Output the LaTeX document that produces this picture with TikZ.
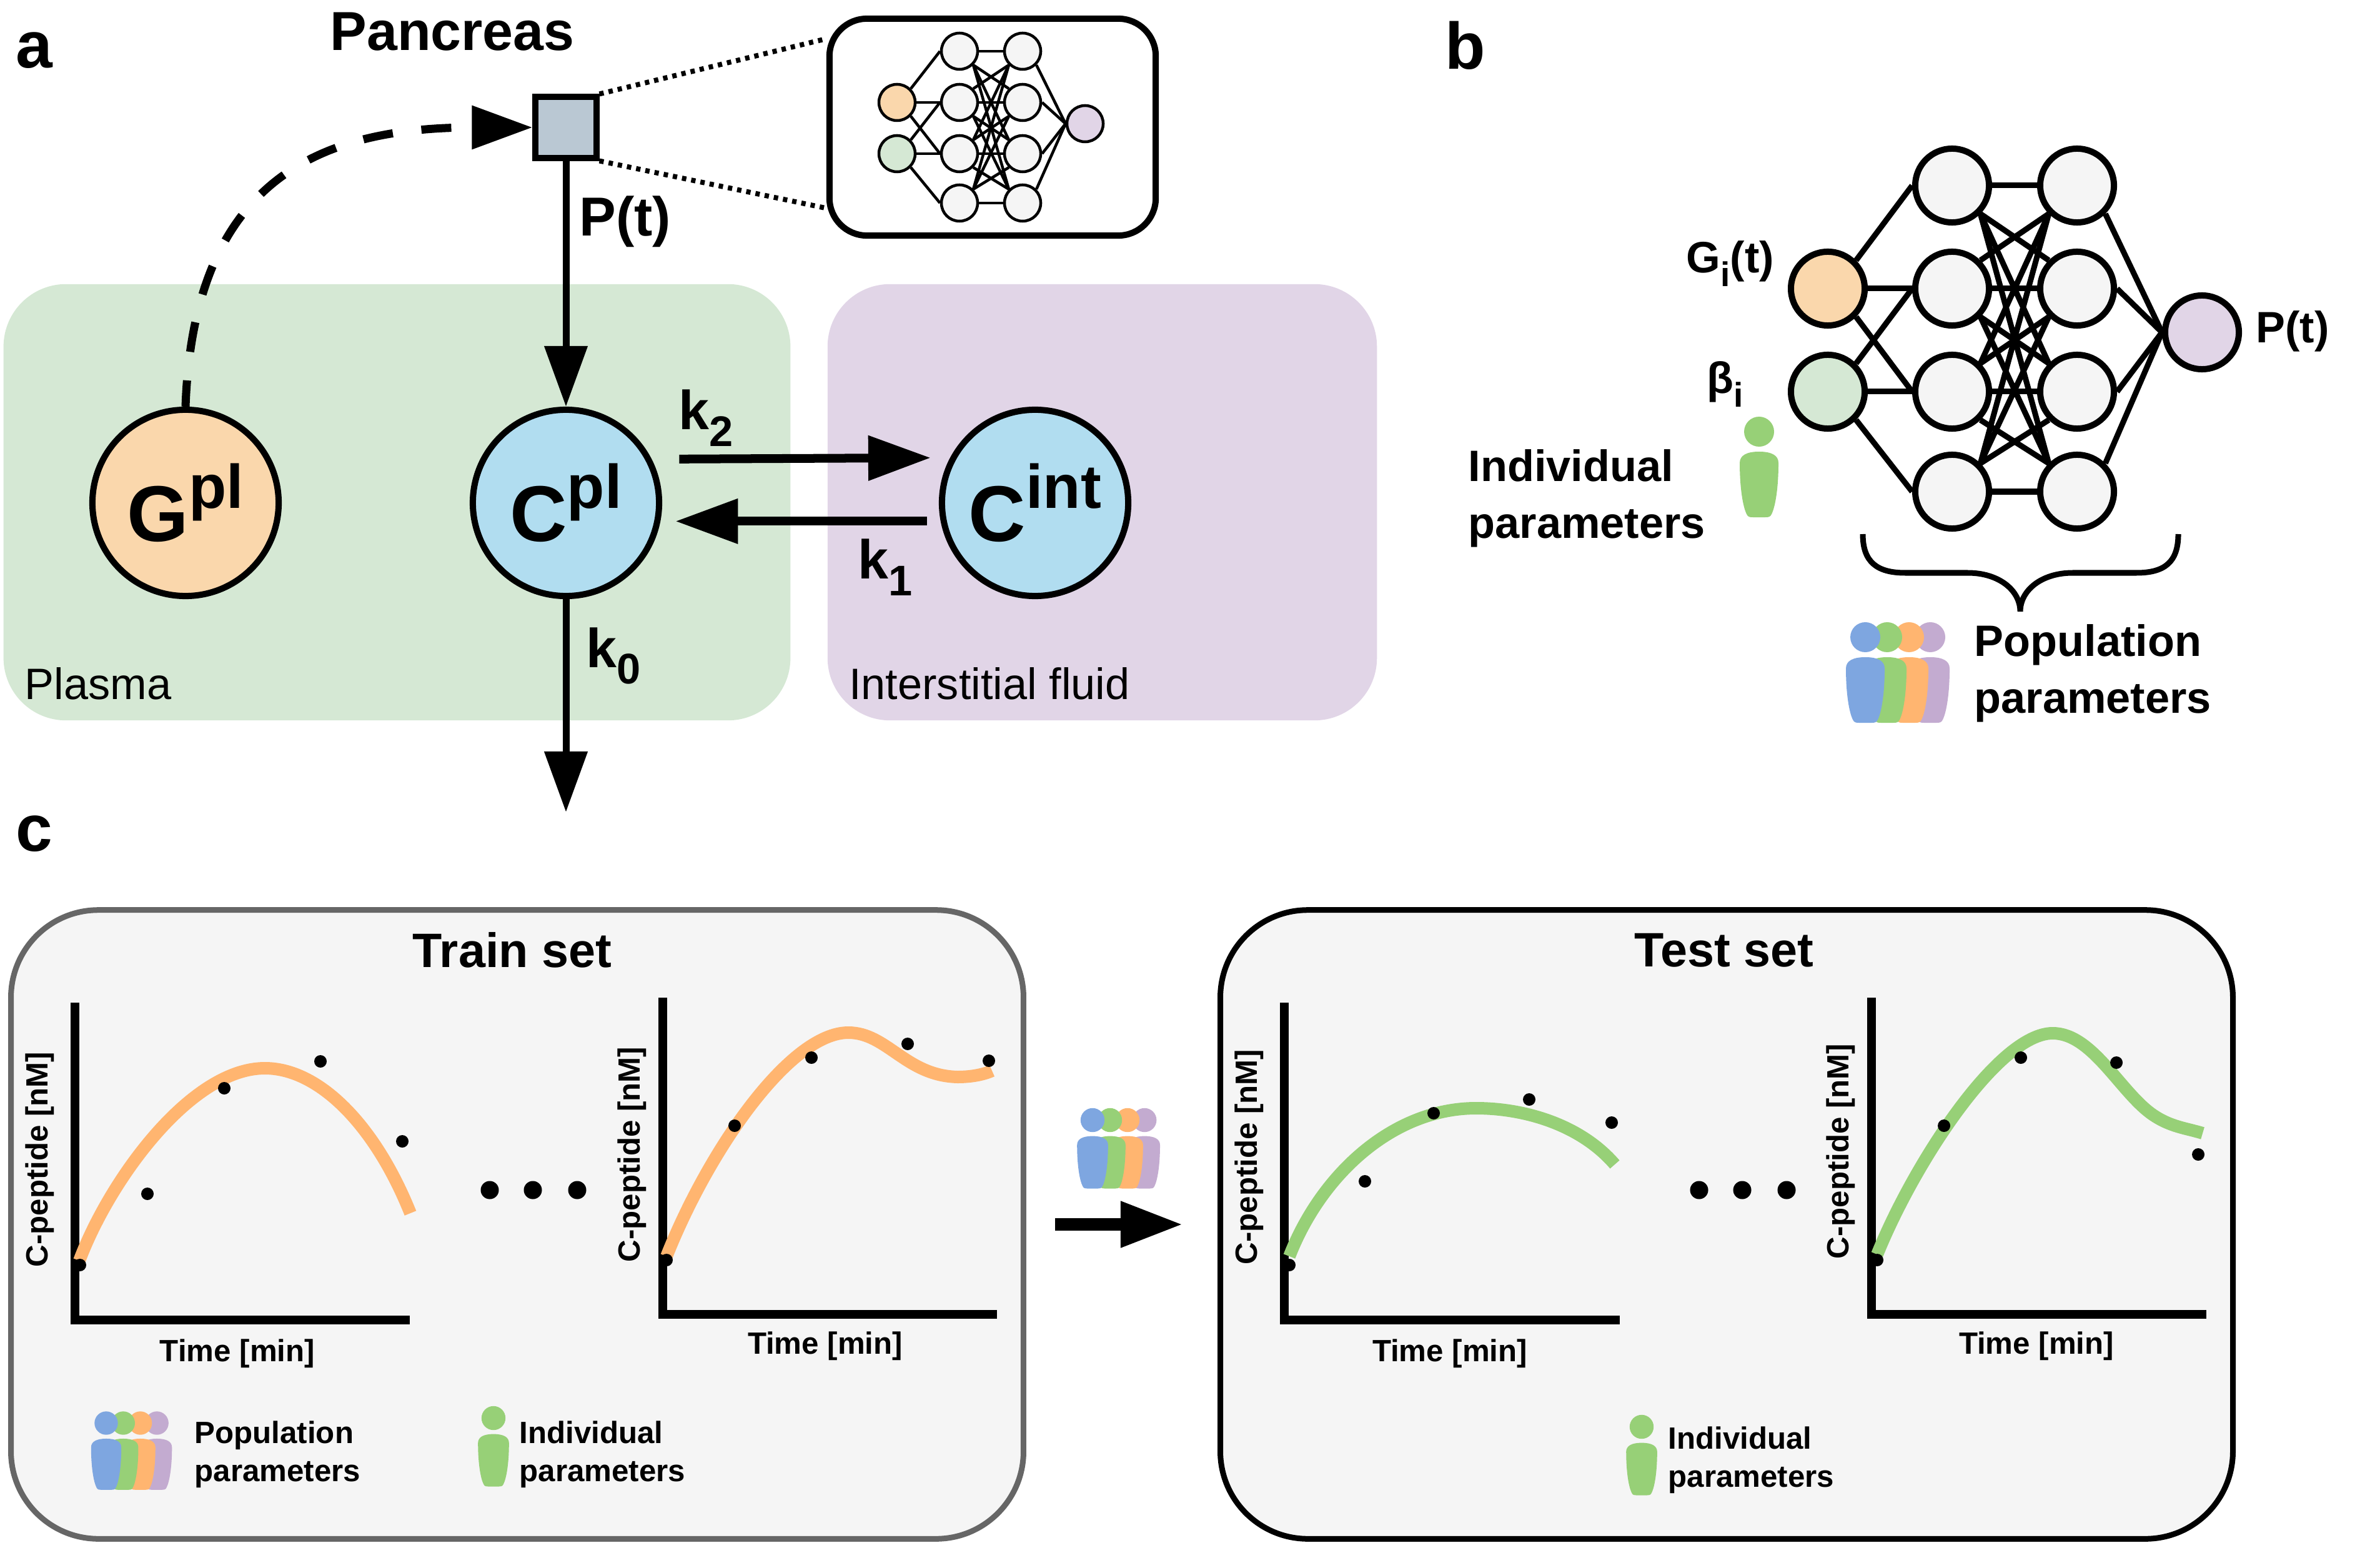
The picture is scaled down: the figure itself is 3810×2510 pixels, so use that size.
\documentclass[tikz,border=0pt]{standalone}
\usepackage{fontspec}
\setmainfont{Liberation Sans}
\usetikzlibrary{arrows.meta}
\usetikzlibrary{shapes, shapes.geometric}

\definecolor{plasmagreen}{HTML}{D5E8D4}
\definecolor{fluidviolet}{HTML}{E1D5E7}
\definecolor{glucoseorange}{HTML}{FAD7AC}
\definecolor{peptideblue}{HTML}{B1DDF0}
\definecolor{pancreasgrey}{HTML}{BAC8D3}
\definecolor{panelgrey}{HTML}{F5F5F5}
\definecolor{popblue}{HTML}{7EA6E0}
\definecolor{popgreen}{HTML}{97D077}
\definecolor{poporange}{HTML}{FFB570}
\definecolor{popviolet}{HTML}{C3ABD0}

\newcommand\highsup[1]{\raisebox{0.42em}{\scalebox{0.78}{#1}}}
\newcommand\lowsub[1]{\raisebox{-0.3em}{\scalebox{0.78}{#1}}}

\newcommand\netedges[2]{%
  \foreach \s/\t/\ang in {1/1/45,1/2/0,1/3/-45,2/2/45,2/3/0,2/4/-45}
    \draw[#2] (#1in\s.\ang) -- (#1ha\t.west);
  \foreach \i in {1,...,4}
    \foreach \j in {1,...,4} {
      \pgfmathtruncatemacro\from{\i<\j ? -45 : (\i>\j ? 45 : 0)}
      \pgfmathtruncatemacro\into{\i<\j ? 135 : (\i>\j ? -135 : 180)}
      \draw[#2] (#1ha\i.\from) -- (#1hb\j.\into);
    }
  \foreach \j/\ang in {1/-45,2/0,3/0,4/45}
    \draw[#2] (#1hb\j.\ang) -- (#1out.west);
}

\newcommand\drawperson[1]{%
  \fill[#1] (0,0) circle (24);
  \fill[#1] (-31,50) .. controls (-31,38) and (-20,32) .. (0,32) .. controls (20,32) and (31,38) .. (31,50)
    .. controls (31,90) and (26,120) .. (20,132) .. controls (18,137) and (14,137) .. (10,137) -- (-10,137)
    .. controls (-14,137) and (-18,137) .. (-20,132) .. controls (-26,120) and (-31,90) .. (-31,50) -- cycle;
}

\tikzset{
  region/.style={rectangle, rounded corners=1cm, minimum height=6.98cm},
  compartment/.style={circle, draw, line width=0.1cm, minimum size=2.98cm, inner sep=0pt, font=\fontsize{36}{36}\selectfont\bfseries},
  panellabel/.style={inner sep=0pt, anchor=base, font=\fontsize{30}{30}\selectfont\bfseries},
  biglabel/.style={inner sep=0pt, font=\fontsize{25}{30}\selectfont\bfseries},
  midlabel/.style={inner sep=0pt, align=left, font=\fontsize{20}{26}\selectfont\bfseries},
  titlelabel/.style={inner sep=0pt, font=\fontsize{22}{26}\selectfont\bfseries},
  smalllabel/.style={inner sep=0pt, align=left, font=\fontsize{14}{17.4}\selectfont\bfseries},
  regionlabel/.style={inner sep=0pt, font=\fontsize{20}{24}\selectfont},
  flow/.style={-{Triangle[length=0.97cm, width=0.67cm]}, line width=0.11cm},
  thickflow/.style={-{Triangle[length=1cm, width=0.69cm]}, line width=0.14cm},
  dotline/.style={line width=0.08cm, dash pattern=on 0.07cm off 0.08cm},
  smallnet/.style={circle, draw, line width=0.045cm, minimum size=0.58cm, inner sep=0pt},
  largenet/.style={circle, draw, line width=0.1cm, minimum size=1.18cm, inner sep=0pt},
  setbox/.style={rectangle, draw, fill=panelgrey, rounded corners=1.4cm, line width=0.09cm, minimum width=16.2cm, minimum height=10.06cm},
  axis/.style={line width=0.145cm},
  fitcurve/.style={line width=0.2cm},
  person/.pic={\drawperson{pic actions}},
  population/.pic={
    \foreach \dx/\col in {104/popviolet,70/poporange,35/popgreen,0/popblue} {
      \begin{scope}[shift={(\dx,0)}]
        \drawperson{fill=\col}
      \end{scope}
    }
  }
}

\begin{document}
\begin{tikzpicture}[x=0.01cm, y=-0.01cm]
\useasboundingbox (0,0) rectangle (3810,2510);

% panel a
\node[panellabel] (labela) at (55,109) {a};
\node[region, fill=plasmagreen, minimum width=12.59cm] (plasma) at (635.5,804) {};
\node[region, fill=fluidviolet, minimum width=8.79cm] (fluid) at (1764.5,804) {};
\node[regionlabel] (plasmatext) at (157,1094) {Plasma};
\node[regionlabel] (fluidtext) at (1584,1094) {Interstitial fluid};

\node[compartment, fill=glucoseorange] (gpl) at (297,805) {G\highsup{pl}};
\node[compartment, fill=peptideblue] (cpl) at (906,805) {C\highsup{pl}};
\node[compartment, fill=peptideblue] (cint) at (1657,805) {C\highsup{int}};
\node[rectangle, draw, fill=pancreasgrey, line width=0.1cm, minimum size=0.97cm] (pancreas) at (906,204) {};
\coordinate (sink) at (906,1300);

\node[biglabel] (pancreastext) at (724,51) {Pancreas};
\node[biglabel] (ptext) at (1001,355) {P(t)};
\node[biglabel] (k2text) at (1130,669) {k\lowsub{2}};
\node[biglabel] (k1text) at (1417,908) {k\lowsub{1}};
\node[biglabel] (k0text) at (982,1050) {k\lowsub{0}};

\draw[flow] (pancreas.south) -- (cpl.north);
\draw[flow] (cpl.south) -- (sink);
\draw[thickflow, shorten <=0.44cm, shorten >=0.31cm] (cpl.27.4) -- (cint.152.6);
\draw[thickflow, shorten <=0.22cm, shorten >=0.24cm] (cint.191) -- (cpl.-11);
\draw[flow, line width=0.13cm, dash pattern=on 0.48cm off 0.46cm, dash phase=0.06cm] (gpl.north) .. controls (310,280) and (520,204) .. (pancreas.west);

% network inside the pancreas
\node[rectangle, draw, fill=white, rounded corners=0.6cm, line width=0.1cm, minimum width=5.22cm, minimum height=3.47cm] (inset) at (1589,203.5) {};
\draw[dotline] (pancreas.north east) -- (inset.152.5);
\draw[dotline] (pancreas.south east) -- (inset.206.5);

\node[smallnet, fill=glucoseorange] (sin1) at (1436,164) {};
\node[smallnet, fill=plasmagreen] (sin2) at (1436,246) {};
\foreach \y [count=\i] in {82,164,246,325} {
  \node[smallnet, fill=panelgrey] (sha\i) at (1536,\y) {};
  \node[smallnet, fill=panelgrey] (shb\i) at (1637,\y) {};
}
\node[smallnet, fill=fluidviolet] (sout) at (1737,198) {};
\netedges{s}{line width=0.045cm}

% panel b
\node[panellabel] (labelb) at (2346,111) {b};
\node[largenet, fill=glucoseorange] (bin1) at (2926,462) {};
\node[largenet, fill=plasmagreen] (bin2) at (2926,627) {};
\foreach \y [count=\i] in {297,462,627,787} {
  \node[largenet, fill=panelgrey] (bha\i) at (3125,\y) {};
  \node[largenet, fill=panelgrey] (bhb\i) at (3325,\y) {};
}
\node[largenet, fill=fluidviolet] (bout) at (3525,532) {};
\netedges{b}{line width=0.09cm}

\node[midlabel] (gitext) at (2770,422) {G\lowsub{i}(t)};
\node[midlabel] (betatext) at (2762,615) {β\lowsub{i}};
\node[midlabel] (pouttext) at (3670,530) {P(t)};
\node[midlabel, anchor=west] (indivb) at (2350,798) {Individual\\parameters};
\node[midlabel, anchor=west] (popb) at (3160,1078) {Population\\parameters};
\pic[fill=popgreen] at (2816,691) {person};
\pic at (2986,1020) {population};
\draw[line width=0.09cm] (2982,855) .. controls (2982,900) and (3005,917) .. (3050,917) -- (3150,917)
  .. controls (3200,917) and (3234,945) .. (3234,979) .. controls (3234,945) and (3268,917) .. (3318,917)
  -- (3420,917) .. controls (3465,917) and (3487,900) .. (3487,855);

% panel c
\node[panellabel] (labelc) at (55,1362) {c};
\node[setbox, draw=black!60] (train) at (828,1960) {};
\node[setbox] (test) at (2764,1960) {};
\node[titlelabel] (traintext) at (820,1521) {Train set};
\node[titlelabel] (testtext) at (2760,1521) {Test set};
\draw[thickflow, line width=0.2cm, shorten <=0.46cm, shorten >=0.55cm] (train.east) -- (test.west);
\pic[scale=0.8] at (1749,1793) {population};

% train plots
\draw[axis] (120,1605) -- (120,2113) -- (656,2113);
\draw[fitcurve, poporange] (127,2018) .. controls (175,1890) and (305,1710) .. (424,1710) .. controls (510,1710) and (600,1800) .. (657,1942);
\foreach \px/\py in {128/2025,236/1911,359/1742,513/1699,644/1827}
  \fill (\px,\py) circle (0.1cm);
\node[smalllabel, rotate=90] (ylabelone) at (64,1856) {C-peptide [nM]};
\node[smalllabel] (xlabelone) at (380,2167) {Time [min]};

\draw[axis] (1061,1597) -- (1061,2104) -- (1596,2104);
\draw[fitcurve, poporange] (1067,2011) .. controls (1135,1840) and (1265,1653) .. (1358,1653) .. controls (1420,1653) and (1450,1722) .. (1533,1724) .. controls (1555,1724) and (1575,1720) .. (1588,1714);
\foreach \px/\py in {1067/2017,1176/1802,1299/1693,1453/1671,1583/1698}
  \fill (\px,\py) circle (0.1cm);
\node[smalllabel, rotate=90] (ylabeltwo) at (1012,1848) {C-peptide [nM]};
\node[smalllabel] (xlabeltwo) at (1321,2155) {Time [min]};

\foreach \px in {784,853,924}
  \fill (\px,1905) circle (0.145cm);

\pic[scale=0.78] at (170,2278) {population};
\node[smalllabel, anchor=west] (poptrain) at (311,2328) {Population\\parameters};
\pic[fill=popgreen, scale=0.8] at (790,2270) {person};
\node[smalllabel, anchor=west] (indivtrain) at (831,2328) {Individual\\parameters};

% test plots
\draw[axis] (2056,1605) -- (2056,2113) -- (2593,2113);
\draw[fitcurve, popgreen] (2064,2011) .. controls (2115,1880) and (2230,1774) .. (2363,1774) .. controls (2440,1774) and (2530,1800) .. (2585,1864);
\foreach \px/\py in {2064/2025,2185/1891,2295/1782,2448/1760,2580/1797}
  \fill (\px,\py) circle (0.1cm);
\node[smalllabel, rotate=90] (ylabelthree) at (2000,1852) {C-peptide [nM]};
\node[smalllabel] (xlabelthree) at (2321,2167) {Time [min]};

\draw[axis] (2996,1597) -- (2996,2104) -- (3532,2104);
\draw[fitcurve, popgreen] (3005,2008) .. controls (3065,1860) and (3200,1654) .. (3286,1654) .. controls (3350,1654) and (3395,1750) .. (3447,1785) .. controls (3475,1804) and (3500,1806) .. (3526,1814);
\foreach \px/\py in {3005/2017,3112/1802,3235/1693,3388/1701,3519/1848}
  \fill (\px,\py) circle (0.1cm);
\node[smalllabel, rotate=90] (ylabelfour) at (2947,1843) {C-peptide [nM]};
\node[smalllabel] (xlabelfour) at (3260,2155) {Time [min]};

\foreach \px in {2720,2789,2860}
  \fill (\px,1905) circle (0.145cm);

\pic[fill=popgreen, scale=0.8] at (2628,2284) {person};
\node[smalllabel, anchor=west] (indivtest) at (2670,2337) {Individual\\parameters};

\end{tikzpicture}
\end{document}
